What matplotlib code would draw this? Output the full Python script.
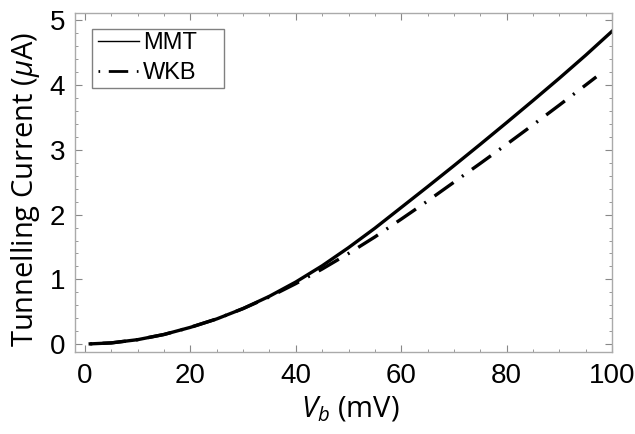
import matplotlib.pyplot as plt
from matplotlib.patches import Rectangle
from matplotlib.ticker import MultipleLocator

plt.rcParams['mathtext.fontset'] = 'custom'
plt.rcParams['mathtext.rm'] = 'Open Sans'
plt.rcParams['mathtext.it'] = 'Open Sans:italic'

# bias voltage (mV) and tunnelling current (uA)
v_mmt = [1, 5, 10, 15, 20, 25, 30, 35, 40, 45, 50, 55, 60, 65, 70, 75, 80, 85, 90, 95, 100]
i_mmt = [0.005, 0.02, 0.07, 0.15, 0.26, 0.39, 0.55, 0.74, 0.96, 1.21, 1.49, 1.79,
         2.11, 2.43, 2.755, 3.085, 3.42, 3.76, 4.105, 4.46, 4.83]

v_wkb = [1, 5, 10, 15, 20, 25, 30, 35, 40, 45, 50, 55, 60, 65, 70, 75, 80, 85, 90, 95, 97]
i_wkb = [0.005, 0.02, 0.07, 0.15, 0.26, 0.39, 0.55, 0.73, 0.935, 1.16, 1.40, 1.655,
         1.93, 2.21, 2.50, 2.79, 3.085, 3.385, 3.69, 4.00, 4.125]

fig = plt.figure(figsize=(6.35, 4.34), dpi=100)
ax = fig.add_axes([0.118, 0.189, 0.846, 0.781])

ax.plot(v_mmt, i_mmt, color='black', lw=2.4, label='MMT')
ax.plot(v_wkb, i_wkb, color='black', lw=2.4, ls=(0, (0.6, 3.1, 7, 3.1)),
        dash_capstyle='butt', label='WKB')

ax.set_xlim(-1.9, 100)
ax.set_ylim(-0.12, 5.11)
ax.xaxis.set_major_locator(MultipleLocator(20))
ax.xaxis.set_minor_locator(MultipleLocator(5))
ax.yaxis.set_major_locator(MultipleLocator(1))
ax.yaxis.set_minor_locator(MultipleLocator(0.2))

for s in ax.spines.values():
    s.set_color('#aaaaaa')
    s.set_linewidth(1.0)
ax.tick_params(which='both', direction='in', top=True, right=True, color='#888888')
ax.tick_params(which='major', length=5, width=0.8, labelsize=20)
ax.tick_params(axis='x', which='major', pad=8)
ax.tick_params(axis='y', which='major', pad=7)
ax.tick_params(which='minor', length=2.5, width=0.6)
for lab in ax.get_xticklabels() + ax.get_yticklabels():
    lab.set_fontfamily('Liberation Sans')

ax.set_xlabel('$V_b$ (mV)', fontsize=21, family='Open Sans')
ax.xaxis.set_label_coords(0.512, -0.125)
ax.set_ylabel('Tunnelling Current ($\\mu$A)', fontsize=21, family='Open Sans')
ax.yaxis.set_label_coords(-0.062, 0.478)

# legend box drawn separately so it can be as wide as the original
ax.add_patch(Rectangle((0.032, 0.779), 0.246, 0.174, transform=ax.transAxes,
                       fill=False, edgecolor='#808080', lw=1.0, zorder=5))
leg = ax.legend(loc='upper left', bbox_to_anchor=(0.035, 0.958), frameon=False,
                prop={'family': 'Liberation Sans', 'size': 17}, handlelength=1.7,
                handletextpad=0.2, borderpad=0.2, borderaxespad=0, labelspacing=0.35)
leg.get_lines()[0].set_linewidth(1.0)
leg.get_lines()[1].set_linewidth(2.0)

fig.savefig('out.png', dpi=100)
